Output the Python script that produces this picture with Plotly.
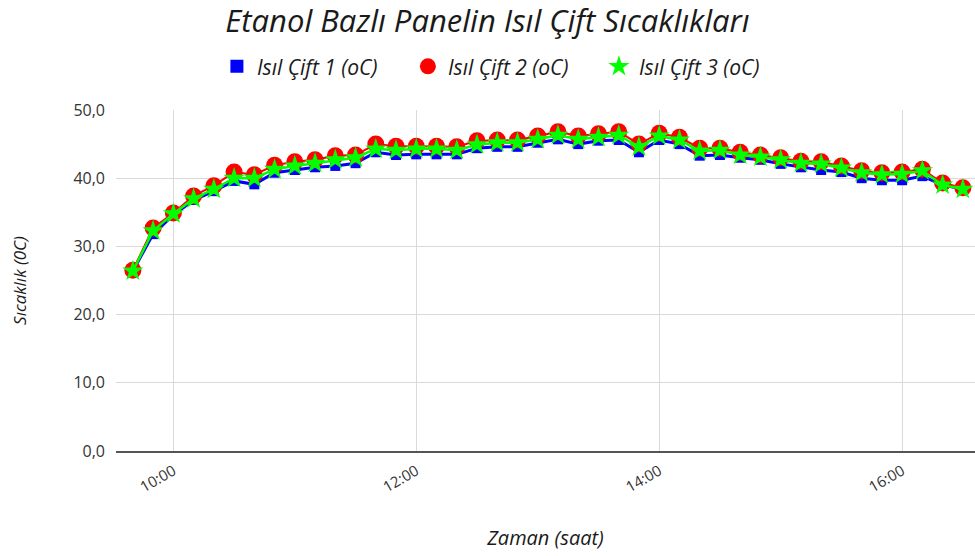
import pandas as pd
import plotly.graph_objects as go

TIMES = [
    "09:40", "09:50", "10:00", "10:10", "10:20", "10:30", "10:40", "10:50",
    "11:00", "11:10", "11:20", "11:30", "11:40", "11:50", "12:00", "12:10",
    "12:20", "12:30", "12:40", "12:50", "13:00", "13:10", "13:20", "13:30",
    "13:40", "13:50", "14:00", "14:10", "14:20", "14:30", "14:40", "14:50",
    "15:00", "15:10", "15:20", "15:30", "15:40", "15:50", "16:00", "16:10",
    "16:20", "16:30",
]
TC1 = [
    26.4, 31.8, 34.6, 36.8, 38.1, 39.6, 39.1, 40.8, 41.2, 41.6, 41.8, 42.2,
    43.8, 43.4, 43.5, 43.5, 43.5, 44.4, 44.6, 44.6, 45.2, 45.7, 45.0, 45.5,
    45.6, 43.8, 45.6, 45.0, 43.3, 43.4, 43.0, 42.7, 42.1, 41.6, 41.2, 40.9,
    40.0, 39.7, 39.7, 40.3, 39.0, 38.4,
]
TC2 = [
    26.5, 32.7, 34.9, 37.4, 38.9, 40.9, 40.5, 41.9, 42.4, 42.7, 43.3, 43.4,
    45.0, 44.7, 44.7, 44.7, 44.6, 45.5, 45.6, 45.6, 46.2, 46.8, 46.2, 46.5,
    46.8, 45.0, 46.6, 46.0, 44.4, 44.4, 43.8, 43.4, 43.0, 42.5, 42.4, 41.8,
    41.1, 40.8, 40.9, 41.3, 39.3, 38.6,
]
TC3 = [
    26.4, 32.3, 34.8, 37.0, 38.4, 40.0, 40.0, 41.3, 41.8, 42.2, 42.7, 43.0,
    44.3, 44.1, 44.3, 44.3, 44.1, 44.9, 45.2, 45.2, 45.7, 46.3, 45.7, 46.0,
    46.3, 44.6, 46.2, 45.6, 44.0, 44.1, 43.4, 43.1, 42.7, 42.2, 42.1, 41.5,
    40.8, 40.5, 40.6, 41.1, 39.0, 38.4,
]
Y_TICKS = [0, 10, 20, 30, 40, 50]

x = pd.to_datetime(["2024-01-01 " + t for t in TIMES])

SERIES = [
    ("Isıl Çift 1 (oC)", TC1, "#0000ff", "square", 10, 3),
    ("Isıl Çift 2 (oC)", TC2, "#ff0000", "circle", 17, 2),
    ("Isıl Çift 3 (oC)", TC3, "#00ff00", "star", 16, 2.5),
]

fig = go.Figure()
for name, vals, color, symbol, size, width in SERIES:
    fig.add_trace(
        go.Scatter(
            x=x,
            y=vals,
            name=name,
            mode="lines+markers",
            line={"color": color, "width": width},
            marker={"color": color, "symbol": symbol, "size": size, "line": {"width": 0}},
            showlegend=False,
        )
    )
# legend-only entries (markers without lines, like the reference)
for name, vals, color, symbol, size, width in SERIES:
    fig.add_trace(
        go.Scatter(
            x=[None],
            y=[None],
            name="<i>" + name + "</i>",
            mode="markers",
            marker={"color": color, "symbol": symbol, "size": 18 if symbol != "square" else 13},
        )
    )

font_it = "Open Sans"
fig.update_layout(
    width=975,
    height=556,
    plot_bgcolor="white",
    paper_bgcolor="white",
    separators=",.",
    margin={"l": 116, "r": 0, "t": 110, "b": 105},
    title={
        "text": "<i>Etanol Bazlı Panelin Isıl Çift Sıcaklıkları</i>",
        "x": 0.5,
        "xanchor": "center",
        "y": 0.962,
        "yanchor": "middle",
        "font": {"family": font_it, "size": 31, "color": "#1a1a1a"},
    },
    legend={
        "orientation": "h",
        "x": 0.451,
        "xanchor": "center",
        "y": 1.127,
        "yanchor": "middle",
        "font": {"family": font_it, "size": 21, "color": "#1a1a1a"},
        "itemwidth": 30,
        "entrywidth": 146,
    },
    font={"family": font_it, "color": "#333"},
)
fig.update_xaxes(
    range=[pd.Timestamp("2024-01-01 09:31:40"), pd.Timestamp("2024-01-01 16:36:00")],
    tickformat="%H:%M",
    dtick=2 * 3600 * 1000,
    tick0=pd.Timestamp("2024-01-01 10:00"),
    tickangle=-30,
    tickfont={"size": 15, "color": "#333"},
    showgrid=True,
    gridcolor="#d9d9d9",
    showline=True,
    linecolor="#555",
    linewidth=1.5,
    ticks="",
    automargin=False,
    ticklabelstandoff=4,
    title={"text": "<i>Zaman (saat)</i>", "font": {"size": 20, "color": "#1a1a1a"}, "standoff": 36},
)
fig.update_yaxes(
    range=[0, 50],
    tickvals=Y_TICKS,
    tickformat=".1f",
    tickfont={"size": 16, "color": "#333"},
    gridcolor="#d9d9d9",
    zeroline=False,
    ticks="",
    automargin=False,
    ticklabelstandoff=10,
    title={"text": "<i>Sıcaklık (0C)</i>", "font": {"size": 17, "color": "#1a1a1a"}, "standoff": 42},
)

# the page body has a default 8px margin; drop it so the figure fills the window
fig.write_html(
    "out.html",
    config={"displayModeBar": False},
    post_script="document.body.style.margin='0';",
)
